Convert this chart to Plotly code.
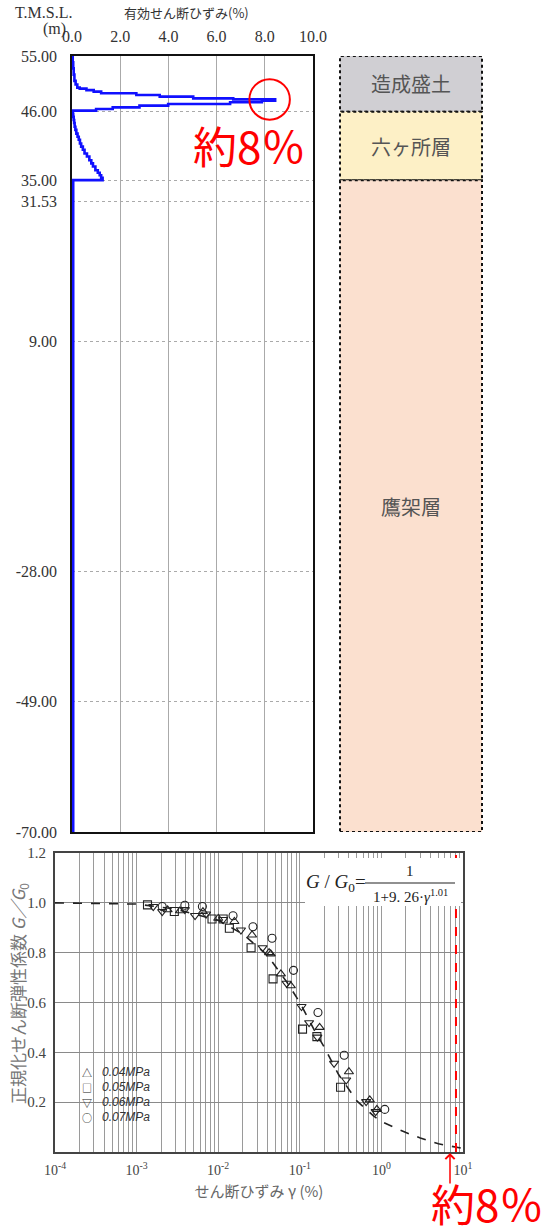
import plotly.graph_objects as go

# ---- top: effective shear strain profile (layer top elevation, strain %) ----
elev = [55.0, 54.0, 53.0, 52.0, 51.0, 50.4, 49.9, 49.75, 49.5, 49.26, 48.99, 48.72,
        48.45, 48.18, 48.02, 47.81, 47.54, 47.27, 47.0, 46.73, 46.47, 46.2,
        45.7, 45.2, 44.7, 44.2, 43.6, 43.1, 42.5, 42.0, 41.5, 40.9, 40.4, 39.9,
        39.3, 38.8, 38.2, 37.7, 37.2, 36.6, 36.2, 35.8, 35.4, 35.0, -70.0]
strain = [0.03, 0.05, 0.07, 0.10, 0.15, 0.22, 0.32, 0.6, 0.9, 1.21, 2.67, 3.64,
          5.03, 6.69, 8.43, 7.88, 6.56, 3.99, 2.8, 1.69, 1.0, 0.03,
          0.05, 0.07, 0.09, 0.11, 0.14, 0.18, 0.23, 0.28, 0.33, 0.38, 0.45, 0.52,
          0.62, 0.72, 0.80, 0.87, 0.97, 1.07, 1.15, 1.21, 1.27, 0.05, 0.05]

elev_ticks = [55.0, 46.0, 35.0, 31.53, 9.0, -28.0, -49.0, -70.0]
strain_ticks = [0, 2, 4, 6, 8, 10]

layer_names = ["造成盛土", "六ヶ所層", "鷹架層"]
layer_tops = [55.0, 46.0, 35.0]
layer_bottoms = [46.0, 35.0, -70.0]
layer_colors = ["#d0cfd3", "#fdf0c6", "#fbe0cf"]

peak_strain = 8.2
peak_elev = 48.0

# ---- bottom: G/G0 - shear strain ----
curve_gamma = [1e-4, 1e-3, 3e-3, 0.01, 0.02, 0.04, 0.07, 0.1, 0.15, 0.2, 0.3, 0.5,
               0.8, 1.0, 2.0, 3.0, 5.0, 8.0, 10.0]
curve_g = [1.0, 0.995, 0.975, 0.93, 0.875, 0.79, 0.68, 0.6, 0.49, 0.42, 0.31, 0.205,
           0.145, 0.122, 0.078, 0.056, 0.033, 0.02, 0.014]

g04 = [2.4e-3, 3.4e-3, 6.5e-3, 0.010, 0.0158, 0.026, 0.042, 0.044, 0.0586, 0.0777,
       0.175, 0.40, 0.72, 0.88]
v04 = [0.972, 0.968, 0.965, 0.938, 0.925, 0.871, 0.80, 0.795, 0.715, 0.667,
       0.50, 0.322, 0.209, 0.171]
g05 = [1.36e-3, 2.9e-3, 8.4e-3, 0.0115, 0.0137, 0.0253, 0.047, 0.108, 0.162, 0.316]
v05 = [0.992, 0.965, 0.935, 0.935, 0.898, 0.82, 0.695, 0.493, 0.463, 0.26]
g06 = [1.6e-3, 2.06e-3, 3.9e-3, 5.2e-3, 7.1e-3, 0.0115, 0.019, 0.035, 0.069, 0.105,
       0.13, 0.164, 0.263, 0.37, 0.65, 0.85]
v06 = [0.985, 0.965, 0.973, 0.949, 0.955, 0.933, 0.891, 0.82, 0.677, 0.584,
       0.519, 0.461, 0.356, 0.289, 0.202, 0.162]
g07 = [2.06e-3, 3.9e-3, 6.4e-3, 0.0152, 0.0267, 0.0457, 0.0837, 0.167, 0.35, 1.1]
v07 = [0.985, 0.99, 0.985, 0.948, 0.904, 0.858, 0.729, 0.56, 0.388, 0.171]

series_names = ["0.04MPa", "0.05MPa", "0.06MPa", "0.07MPa"]
series_symbols = ["triangle-up-open", "square-open", "triangle-down-open", "circle-open"]
legend_glyphs = ["△", "□", "▽", "○"]
series_x = [g04, g05, g06, g07]
series_y = [v04, v05, v06, v07]

gamma_label_exps = [-4, -3, -2, -1, 0, 1]
g_ticks = [0.2, 0.4, 0.6, 0.8, 1.0, 1.2]

W, H = 545, 1231
def px(x):
    return x / W
def py(y):
    return 1 - y / H

SERIF = "Liberation Serif"
JP = "Noto Sans CJK JP"

fig = go.Figure()

fig.add_trace(go.Scatter(
    x=strain, y=elev, mode="lines", line=dict(color="#1010ff", width=2.6, shape="vh"),
    showlegend=False, xaxis="x", yaxis="y"))

fig.add_trace(go.Scatter(
    x=curve_gamma, y=curve_g, mode="lines", line=dict(color="#222", width=1.6, dash="dash"),
    showlegend=False, xaxis="x3", yaxis="y3"))

fig.add_trace(go.Scatter(
    x=[peak_strain, peak_strain], y=[0, 1.2], mode="lines",
    line=dict(color="#ff0000", width=2, dash="dash"),
    showlegend=False, xaxis="x3", yaxis="y3"))

for name, sym, gx, gy in zip(series_names, series_symbols, series_x, series_y):
    fig.add_trace(go.Scatter(
        x=gx, y=gy, mode="markers", name=name, showlegend=False,
        marker=dict(symbol=sym, size=8, color="#222", line=dict(width=1.1, color="#222")),
        xaxis="x3", yaxis="y3"))

# log grid at every 1..9 x decade
log_vals, log_text = [], []
for e in gamma_label_exps[:-1]:
    for k in range(1, 10):
        log_vals.append(k * 10.0 ** e)
        log_text.append("10<sup>%d</sup>" % e if k == 1 else "")
log_vals.append(10.0 ** gamma_label_exps[-1])
log_text.append("10<sup>%d</sup>" % gamma_label_exps[-1])

shapes = []
for top, bot, col in zip(layer_tops, layer_bottoms, layer_colors):
    shapes.append(dict(type="rect", xref="paper", yref="y", x0=px(340), x1=px(482),
                       y0=bot, y1=top, fillcolor=col,
                       line=dict(color="#111", width=2, dash="dot"), layer="below"))

shapes.append(dict(type="circle", xref="x", yref="y",
                   x0=peak_strain - 0.84, x1=peak_strain + 0.84,
                   y0=peak_elev - 3.27, y1=peak_elev + 3.27,
                   line=dict(color="#ff0000", width=2)))

# formula box
shapes.append(dict(type="rect", xref="paper", yref="paper", x0=px(305), x1=px(461),
                   y0=py(906), y1=py(858), fillcolor="white", line=dict(width=0),
                   layer="above"))
shapes.append(dict(type="line", xref="paper", yref="paper", x0=px(365), x1=px(455),
                   y0=py(883), y1=py(883), line=dict(color="#222", width=1.2)))

annotations = [
    dict(text="T.M.S.L.", x=px(43), y=py(13), font=dict(family=SERIF, size=16, color="#333")),
    dict(text="(m)", x=px(54), y=py(29), font=dict(family=SERIF, size=16, color="#333")),
    dict(text="有効せん断ひずみ(%)", x=px(186), y=py(13), font=dict(family=JP, size=13, color="#333")),
    dict(text="約8％", x=px(249), y=py(145), font=dict(family=JP, size=44, color="#ff0000")),
    dict(text="約8％", x=px(487), y=py(1203), font=dict(family=JP, size=44, color="#ff0000")),
    dict(text="<i>G</i> / <i>G</i><sub>0</sub>=", x=px(336), y=py(883),
         font=dict(family=SERIF, size=19, color="#222")),
    dict(text="1", x=px(410), y=py(871), font=dict(family=SERIF, size=15, color="#222")),
    dict(text="1+9. 26·<i>γ</i><sup>1.01</sup>", x=px(410), y=py(896),
         font=dict(family=SERIF, size=15, color="#222")),
    dict(text="正規化せん断弾性係数 <i>G／G</i><sub>0</sub>", x=px(18), y=py(994), textangle=-90,
         font=dict(family=JP, size=17, color="#777")),
    dict(text="", x=px(450), y=py(1153), showarrow=True, ax=0, ay=32,
         arrowcolor="#ff0000", arrowwidth=1.5, arrowhead=4, arrowsize=1.2),
]
for name, top, bot in zip(layer_names, layer_tops, layer_bottoms):
    annotations.append(dict(text=name, xref="paper", yref="y", x=px(411), y=(top + bot) / 2,
                            font=dict(family=JP, size=20, color="#555")))
# hand-placed legend (tight spacing like the source figure)
for i, (name, glyph) in enumerate(zip(series_names, legend_glyphs)):
    ly = 1072 + 15 * i
    annotations.append(dict(text=glyph, x=px(87), y=py(ly),
                            font=dict(family=JP, size=10, color="#222")))
    annotations.append(dict(text="<i>" + name + "</i>", x=px(100), y=py(ly), xanchor="left",
                            font=dict(family="Liberation Sans", size=12, color="#333")))
for a in annotations:
    a.setdefault("xref", "paper")
    a.setdefault("yref", "paper")
    a.setdefault("showarrow", False)
    a.setdefault("xanchor", "center")
    a.setdefault("yanchor", "middle")

fig.update_layout(
    width=W, height=H, margin=dict(l=0, r=0, t=0, b=0, autoexpand=False),
    paper_bgcolor="white", plot_bgcolor="white", showlegend=False,
    shapes=shapes, annotations=annotations,
    xaxis=dict(domain=[px(72), px(313)], range=[0, 10], side="top", anchor="y",
               tickvals=strain_ticks, ticktext=["%.1f" % v for v in strain_ticks],
               showgrid=True, gridcolor="#aaa", gridwidth=1, zeroline=False,
               showline=True, mirror=True, linecolor="#111", linewidth=1.5,
               tickfont=dict(family=SERIF, size=16, color="#333"), ticklabelstandoff=6,
               automargin=False),
    yaxis=dict(domain=[py(832), py(56)], range=[-70, 55], anchor="x",
               tickvals=elev_ticks, ticktext=["%.2f" % v for v in elev_ticks],
               showgrid=True, gridcolor="#aaa", griddash="dot", gridwidth=1, zeroline=False,
               showline=True, mirror=True, linecolor="#111", linewidth=1.5,
               tickfont=dict(family=SERIF, size=16, color="#333"), ticklabelstandoff=10,
               automargin=False),
    xaxis3=dict(domain=[px(55), px(463)], type="log", range=[-4, 1], anchor="y3",
                tickvals=log_vals, ticktext=log_text,
                showgrid=True, gridcolor="#9a9a9a", gridwidth=1, zeroline=False,
                showline=True, mirror=True, linecolor="#444", linewidth=2,
                tickfont=dict(family=SERIF, size=14, color="#444"), ticklabelstandoff=4,
                automargin=False,
                title=dict(text="せん断ひずみ γ (%)", standoff=10,
                           font=dict(family=JP, size=15, color="#666"))),
    yaxis3=dict(domain=[py(1152), py(853)], range=[0, 1.2], anchor="x3",
                tickvals=g_ticks, ticktext=["%.1f" % v for v in g_ticks],
                showgrid=True, gridcolor="#8a8a8a", gridwidth=1.2, zeroline=False,
                showline=True, mirror=True, linecolor="#444", linewidth=2,
                tickfont=dict(family=SERIF, size=15, color="#444"), ticklabelstandoff=4,
                automargin=False),
)

fig.write_html("out.html", config={"displayModeBar": False},
               post_script="document.body.style.margin='0px';")
